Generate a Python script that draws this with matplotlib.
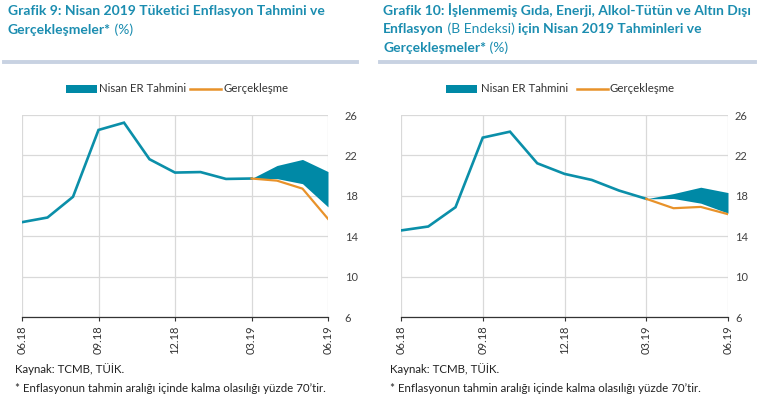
import matplotlib
matplotlib.use("Agg")
import matplotlib.pyplot as plt
from matplotlib.patches import Rectangle
from matplotlib.lines import Line2D

plt.rcParams['font.family'] = ['Lato', 'DejaVu Sans']

# months 06.18 .. 06.19
months = ['06.18', '07.18', '08.18', '09.18', '10.18', '11.18', '12.18',
          '01.19', '02.19', '03.19', '04.19', '05.19', '06.19']
tick_labels = ['06.18', '09.18', '12.18', '03.19', '06.19']

# Grafik 9: TÜFE
cpi_hist = [15.39, 15.85, 17.90, 24.52, 25.24, 21.62, 20.30, 20.35, 19.67, 19.71]
cpi_actual = [19.71, 19.50, 18.71, 15.72]
cpi_upper = [19.71, 21.0, 21.6, 20.4]
cpi_lower = [19.71, 19.7, 19.2, 16.9]

# Grafik 10: B endeksi
b_hist = [14.57, 14.96, 16.87, 23.76, 24.35, 21.22, 20.17, 19.57, 18.52, 17.70]
b_actual = [17.70, 16.77, 16.90, 16.18]
b_upper = [17.70, 18.22, 18.85, 18.32]
b_lower = [17.70, 17.73, 17.27, 16.28]

yticks = [6, 10, 14, 18, 22, 26]

TEAL = '#0b8fa9'
BAND = '#0089a6'
ORANGE = '#e8922a'
TITLE = '#1b8db0'
RULE = '#c8d2e2'

W, H = 770, 399
fig = plt.figure(figsize=(W / 100, H / 100), dpi=100)


def fx(px):
    return px / W


def fy(py):
    return 1 - py / H


def draw_panel(rect, hist, actual, upper, lower, ypad):
    ax = fig.add_axes(rect)
    x = list(range(len(months)))
    xh = x[:len(hist)]
    xf = x[len(hist) - 1:]
    ax.fill_between(xf, lower, upper, color=BAND, lw=0, zorder=3)
    ax.plot(xh, hist, color=TEAL, lw=1.9, zorder=4, solid_joinstyle='miter')
    ax.plot(xf, actual, color=ORANGE, lw=1.6, zorder=5)
    ax.set_xlim(0, len(months) - 1)
    ax.set_ylim(6, 26)
    ax.set_yticks(yticks)
    ax.yaxis.tick_right()
    ax.tick_params(axis='y', length=0, pad=ypad, labelsize=8, labelcolor='#404040')
    for lab in ax.get_yticklabels():
        lab.set_horizontalalignment('left')
    pos = [months.index(t) for t in tick_labels]
    ax.set_xticks(pos)
    ax.set_xticklabels(tick_labels, rotation=90, fontsize=8, color='#333333')
    ax.tick_params(axis='x', length=3, width=0.8, color='#333333', pad=3)
    ax.grid(True, color='#d9d9d9', lw=0.9, zorder=0)
    for s in ['top', 'left', 'right']:
        ax.spines[s].set_visible(False)
    ax.spines['bottom'].set_color('#333333')
    ax.spines['bottom'].set_linewidth(0.9)
    ax.spines['bottom'].set_zorder(6)
    return ax


draw_panel([fx(22), fy(317), fx(306), (317 - 115) / H],
           cpi_hist, cpi_actual, cpi_upper, cpi_lower, 12)
draw_panel([fx(401), fy(317), fx(327), (317 - 115) / H],
           b_hist, b_actual, b_upper, b_lower, 5)

fig.canvas.draw()
renderer = fig.canvas.get_renderer()


def rich_line(x0, y0, parts, size=10):
    # parts: list of (text, bold)
    x = fx(x0)
    for txt, bold in parts:
        t = fig.text(x, fy(y0), txt, fontsize=size, color=TITLE,
                     fontweight='bold' if bold else 'normal', va='center', ha='left')
        bb = t.get_window_extent(renderer)
        x += bb.width / W


rich_line(8, 11, [('Grafik 9: Nisan 2019 Tüketici Enflasyon Tahmini ve', True)])
rich_line(8, 30, [('Gerçekleşmeler*', True), (' (%)', False)])
rich_line(383, 10, [('Grafik 10: İşlenmemiş Gıda, Enerji, Alkol-Tütün ve Altın Dışı', True)])
rich_line(383, 29, [('Enflasyon', True), (' (B Endeksi) ', False),
                    ('için Nisan 2019 Tahminleri ve', True)])
rich_line(383, 48, [('Gerçekleşmeler*', True), (' (%)', False)])

# rules under the titles
for a, b in [(4, 357), (380, 755)]:
    fig.add_artist(Line2D([fx(a), fx(b)], [fy(62), fy(62)], color=RULE, lw=2.8))

# legends
for px, tx, lx, gx in [(66, 99, 190, 224), (446, 481, 577, 610)]:
    fig.add_artist(Rectangle((fx(px), fy(93)), fx(31), 8 / H, color=BAND, lw=0))
    fig.text(fx(tx), fy(89), 'Nisan ER Tahmini', fontsize=8.2, color='#333333',
             va='center', ha='left')
    fig.add_artist(Line2D([fx(lx), fx(lx + 31)], [fy(89), fy(89)], color=ORANGE, lw=1.8))
    fig.text(fx(gx), fy(89), 'Gerçekleşme', fontsize=8.2, color='#333333',
             va='center', ha='left')

# footers
for x0 in [15, 390]:
    fig.text(fx(x0), fy(369), 'Kaynak: TCMB, TÜİK.', fontsize=8.3, color='#222222',
             va='center', ha='left')
    fig.text(fx(x0), fy(388), '* Enflasyonun tahmin aralığı içinde kalma olasılığı yüzde 70’tir.',
             fontsize=8.3, color='#222222', va='center', ha='left')

fig.savefig('out.png', dpi=100)
